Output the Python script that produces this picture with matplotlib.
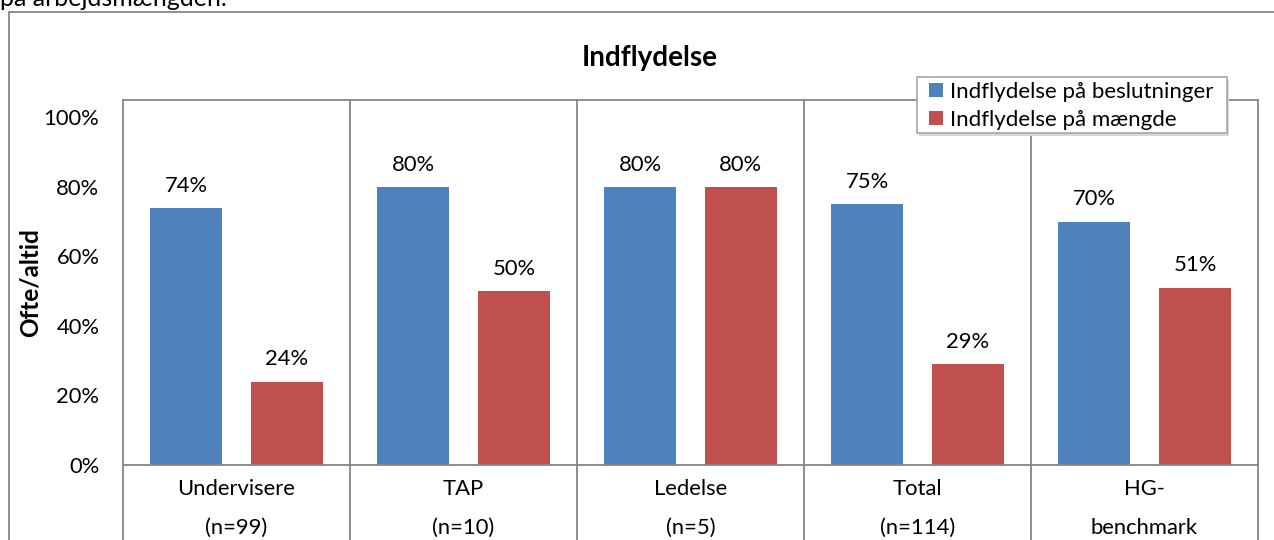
import matplotlib
matplotlib.use("Agg")
import matplotlib.pyplot as plt
from matplotlib.lines import Line2D
from matplotlib.patches import Rectangle
import numpy as np

categories = ["Undervisere\n(n=99)", "TAP\n(n=10)", "Ledelse\n(n=5)", "Total\n(n=114)", "HG-\nbenchmark"]
beslutninger = [74, 80, 80, 75, 70]
maengde = [24, 50, 80, 29, 51]
series_names = ["Indflydelse på beslutninger", "Indflydelse på mængde"]
yticks = [0, 20, 40, 60, 80, 100]

BLUE = "#4F81BD"
RED = "#C0504D"
GRID = "#868686"
FONT = "Lato"
FS = 15.8

plt.rcParams["font.family"] = [FONT, "DejaVu Sans"]

W, H = 1274, 540
fig = plt.figure(figsize=(W / 100, H / 100), dpi=100)

# outer chart frame
fig.patches.append(Rectangle((9 / W, -0.1), 1.2, 1 - 12 / H + 0.1, transform=fig.transFigure,
                             fill=False, edgecolor=GRID, linewidth=1.3))

# cut-off text above chart
fig.text(0 / W, 1 - 6 / H, "på arbejdsmængden.", fontsize=18, va="baseline", ha="left", color="black")

ax = fig.add_axes([123 / W, 75 / H, 1135 / W, 365 / H])
x = np.arange(len(categories))
bw = 0.317
off = 0.222
b1 = ax.bar(x - off, [v / 100 for v in beslutninger], bw, color=BLUE, label=series_names[0], zorder=2)
b2 = ax.bar(x + off, [v / 100 for v in maengde], bw, color=RED, label=series_names[1], zorder=2)

for bars, vals in ((b1, beslutninger), (b2, maengde)):
    for r, v in zip(bars, vals):
        ax.annotate(f"{v}%", (r.get_x() + r.get_width() / 2, r.get_height()),
                    xytext=(0, 16), textcoords="offset points", ha="center", va="center",
                    fontsize=FS)

ax.set_xlim(-0.5, len(categories) - 0.5)
ax.set_ylim(0, 1.05)
ax.set_yticks([t / 100 for t in yticks])
ax.set_yticklabels([f"{t}%" for t in yticks], fontsize=FS)
ax.tick_params(axis="y", length=0, pad=17)
ax.set_xticks([])
for s in ax.spines.values():
    s.set_color(GRID)
    s.set_linewidth(1.3)

ext = -75 / 365
# separators and extended side lines
for xb in np.arange(-0.5, len(categories), 1.0):
    ax.add_line(Line2D([xb, xb], [0, ext], transform=ax.get_xaxis_transform(),
                       color=GRID, linewidth=1.3, clip_on=False))
for xb in np.arange(0.5, len(categories) - 1, 1.0):
    ax.add_line(Line2D([xb, xb], [0, 1], transform=ax.get_xaxis_transform(),
                       color=GRID, linewidth=1.3, clip_on=False, zorder=1))

# category labels (two lines with wide spacing)
for i, c in enumerate(categories):
    lines = c.split("\n")
    for j, ln in enumerate(lines):
        ax.text(i, -(24 + 39 * j) / 365, ln, transform=ax.get_xaxis_transform(),
                ha="center", va="center", fontsize=FS, clip_on=False)

fig.text(30 / W, 1 - 283 / H, "Ofte/altid", fontsize=17.5, fontweight="bold",
         rotation=90, ha="center", va="center")

fig.text(650 / W, 1 - 58 / H, "Indflydelse", fontsize=20, fontweight="bold", ha="center", va="center")

# legend frame (with soft shadow) + legend entries
fig.patches.append(Rectangle((919 / W, 1 - 136 / H), 310 / W, 56 / H, transform=fig.transFigure,
                             facecolor="#D8D8D8", edgecolor="none", zorder=5))
fig.patches.append(Rectangle((917 / W, 1 - 133 / H), 310 / W, 56 / H, transform=fig.transFigure,
                             facecolor="white", edgecolor="#A6A6A6", linewidth=1.2, zorder=6))
leg = fig.legend(handles=[b1, b2], loc="upper left", bbox_to_anchor=(929 / W, 1 - 82 / H),
                 fontsize=16, frameon=False, handlelength=0.63, handleheight=0.63,
                 handletextpad=0.3, borderpad=0, labelspacing=0.36, borderaxespad=0)
leg.set_zorder(7)

fig.savefig("out.png", dpi=100)
